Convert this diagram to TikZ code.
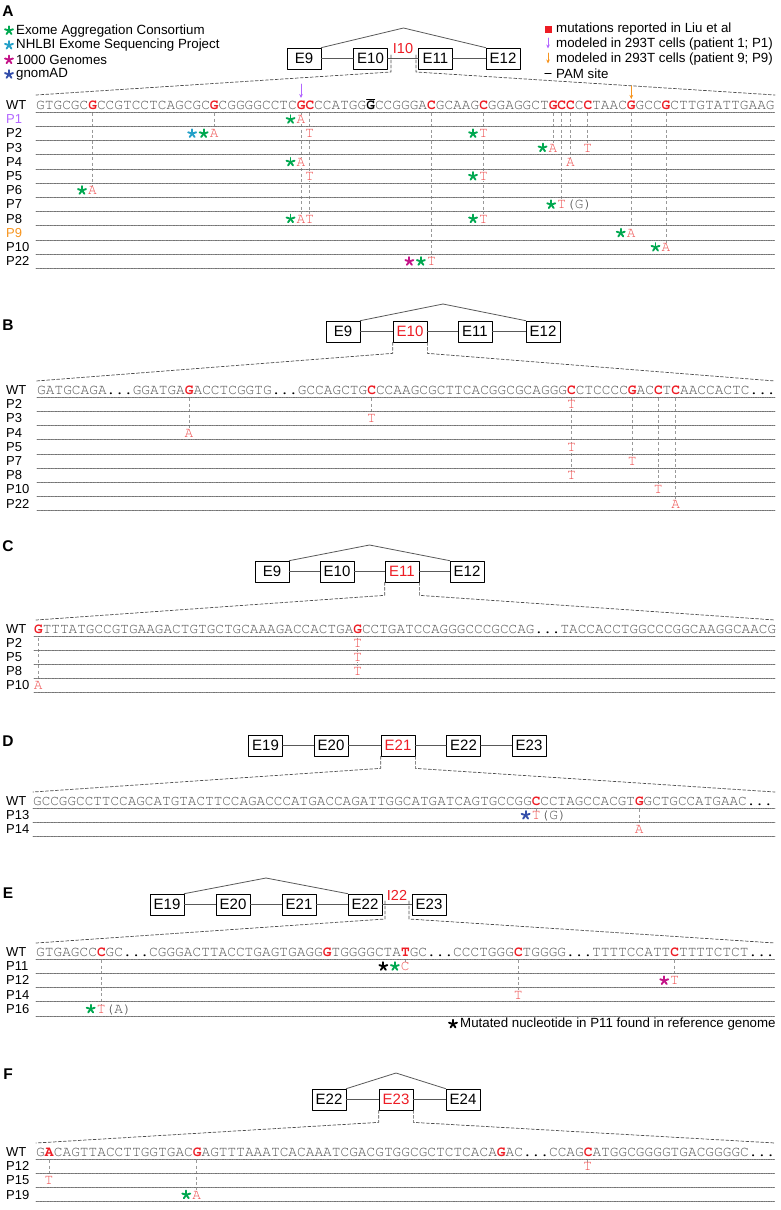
\documentclass[tikz,border=0pt]{standalone}
\usepackage{fontspec}
\setmainfont{Liberation Sans}
\setmonofont{TeX Gyre Cursor}
\usetikzlibrary{arrows.meta,backgrounds}

\definecolor{seqred}{RGB}{237,28,36}
\definecolor{mutred}{RGB}{238,80,80}
\definecolor{seqgray}{RGB}{80,80,80}
\definecolor{exacgreen}{RGB}{0,168,80}
\definecolor{espteal}{RGB}{36,160,200}
\definecolor{kgmagenta}{RGB}{196,20,136}
\definecolor{gnomblue}{RGB}{52,78,170}
\definecolor{pone}{RGB}{178,102,255}
\definecolor{pnine}{RGB}{247,148,29}

\newcommand{\hlr}[1]{\textcolor{seqred}{\textbf{#1}}}
\newcommand{\pam}[1]{\textcolor{black}{\textbf{#1}}}
\newcommand{\gp}{\textcolor{black}{...}}

\tikzset{
  panel/.style={inner sep=0, font=\fontsize{15.5}{17}\selectfont\bfseries},
  legtext/.style={anchor=west, inner sep=0, font=\fontsize{13.3}{15}\selectfont},
  rowlab/.style={anchor=west, inner sep=0, font=\fontsize{13}{15}\selectfont},
  seq/.style={anchor=base west, inner sep=0, text=seqgray, font=\fontsize{14.48}{16}\selectfont\ttfamily},
  mutl/.style={anchor=base, inner sep=0.6, fill=white, text=mutred, font=\fontsize{14.48}{16}\selectfont\ttfamily},
  extral/.style={anchor=base west, inner sep=0, text=seqgray, font=\fontsize{14.48}{16}\selectfont\ttfamily},
  exon/.style={draw, line width=0.7, minimum width=34, minimum height=21, inner sep=0, font=\fontsize{15}{17}\selectfont},
  intlab/.style={inner sep=0, text=seqred, font=\fontsize{14.5}{16}\selectfont},
  intron/.style={draw=black!65, line width=0.8},
  zoomline/.style={black!70, line width=0.7, dash pattern=on 3pt off 2pt},
  vline/.style={black!40, line width=0.8, dash pattern=on 3pt off 2.5pt},
  rowline/.style={black!55, line width=0.6, dash pattern=on 0.7pt off 0.7pt},
  marrow/.style={-{Stealth[length=4pt,width=3.6pt]}, line width=0.7},
  mstar/.pic={\foreach \a in {-90,-18,54,126,198} \draw[line width=1.9, line cap=round] (0,0) -- (\a:4.2);}
}

% mutation letter under column #2 of the WT row, in row #3
\newcommand{\mut}[4]{%
  \coordinate (#1-top) at ({\sx+(#2-0.5)*\cw},\wtl+1);
  \node[mutl] (#1) at ({\sx+(#2-0.5)*\cw},{\wtc+\rs*#3+4.5}) {#4};
  \begin{scope}[on background layer]
    \draw[vline] (#1-top) -- (#1.north);
  \end{scope}}
\newcommand{\mstars}[3]{\path (#1.base) ++(-#3,-4.3) pic[#2] {mstar};}
\newcommand{\mutextra}[2]{\path (#1.base) ++(4.35,0) node[extral] (#1x) {#2};}
\newcommand{\seqrows}[2]{%
  \node[rowlab] (#1WT) at (6,\wtc) {WT};
  \draw[rowline] (\sx,\wtl) -- (775,\wtl);
  \foreach \lab/\lc [count=\i] in {#2} {
    \node[rowlab, text=\lc] (#1\lab) at (6,{\wtc+\rs*\i}) {\lab};
    \draw[rowline] (\sx,{\wtl+\rs*\i}) -- (775,{\wtl+\rs*\i});
  }}

\begin{document}
\begin{tikzpicture}[x=1pt,y=-1pt,line cap=round,line join=round]
  \useasboundingbox (0,0) rectangle (780,1210);

  %% A
  \node[panel] (labA) at (8,11) {A};
  \foreach \cl/\tx [count=\i] in {exacgreen/Exome Aggregation Consortium,espteal/NHLBI Exome Sequencing Project,kgmagenta/1000 Genomes,gnomblue/gnomAD} {
    \pic[\cl] at (9,{16+14.6*\i}) {mstar};
    \node[legtext] (leg\i) at (16,{16+14.6*\i}) {\tx};
  }
  \node[fill=seqred, minimum size=7, inner sep=0] (legsq) at (548,29.5) {};
  \draw[marrow, pone] (548,38) -- (548,48.5);
  \draw[marrow, pnine] (548,53) -- (548,63.5);
  \draw[line width=1.2] (545,73.5) -- (551,73.5);
  \node[legtext] (legr1) at (556,29.5) {mutations reported in Liu et al};
  \node[legtext] (legr2) at (556,44) {modeled in 293T cells (patient 1; P1)};
  \node[legtext] (legr3) at (556,58.8) {modeled in 293T cells (patient 9; P9)};
  \node[legtext] (legr4) at (556,73.5) {PAM site};

  \node[exon] (aE9) at (304,58.5) {E9};
  \node[exon] (aE10) at (370.5,58.5) {E10};
  \node[exon] (aE11) at (435.5,58.5) {E11};
  \node[exon] (aE12) at (503,58.5) {E12};
  \node[intlab] (aI10) at (403,49) {I10};
  \coordinate (aTop) at (403.5,28);
  \draw[intron] (aE9) -- (aE10) (aE10) -- (aE11) (aE11) -- (aE12);
  \draw[intron] (aE9.north east) -- (aTop) -- (aE12.north west);
  \coordinate (aZl) at (391,55);
  \coordinate (aZr) at (416,55);
  \draw[zoomline] (aZl) -- ++(0,17) -- (36,95);
  \draw[zoomline] (aZr) -- ++(0,17) -- (775,95);

  \def\sx{36}\def\cw{8.69}\def\wtc{105}\def\wtl{112}\def\rs{14.2}
  \node[seq] (aWT) at (\sx,\wtc+4.5) {GTGCGC\hlr{G}CCGTCCTCAGCGC\hlr{G}CGGGGCCTC\hlr{GC}CCATGG\pam{G}CCGGGA\hlr{C}GCAAG\hlr{C}GGAGGCT\hlr{GCC}C\hlr{C}TAAC\hlr{G}GCC\hlr{G}CTTGTATTGAAG};
  \draw[line width=1.2] (366.6,99.5) -- (374.6,99.5);
  \draw[marrow, pone] (301,84) -- (301,98);
  \draw[marrow, pnine] (631.3,86) -- (631.3,99);
  \seqrows{a}{P1/pone,P2/black,P3/black,P4/black,P5/black,P6/black,P7/black,P8/black,P9/pnine,P10/black,P22/black}
  \mut{a6}{7}{6}{A} \mstars{a6}{exacgreen}{10.5}
  \mut{a2a}{21}{2}{A} \mstars{a2a}{exacgreen}{10.5} \mstars{a2a}{espteal}{22}
  \mut{a1}{31}{1}{A} \mstars{a1}{exacgreen}{10.5}
  \mut{a4a}{31}{4}{A} \mstars{a4a}{exacgreen}{10.5}
  \mut{a8a}{31}{8}{A} \mstars{a8a}{exacgreen}{10.5}
  \mut{a2b}{32}{2}{T}
  \mut{a5a}{32}{5}{T}
  \mut{a8b}{32}{8}{T}
  \mut{a22}{46}{11}{T} \mstars{a22}{exacgreen}{10.5} \mstars{a22}{kgmagenta}{22}
  \mut{a2c}{52}{2}{T} \mstars{a2c}{exacgreen}{10.5}
  \mut{a5b}{52}{5}{T} \mstars{a5b}{exacgreen}{10.5}
  \mut{a8c}{52}{8}{T} \mstars{a8c}{exacgreen}{10.5}
  \mut{a3a}{60}{3}{A} \mstars{a3a}{exacgreen}{10.5}
  \mut{a7}{61}{7}{T} \mstars{a7}{exacgreen}{10.5} \mutextra{a7}{(G)}
  \mut{a4b}{62}{4}{A}
  \mut{a3b}{64}{3}{T}
  \mut{a9}{69}{9}{A} \mstars{a9}{exacgreen}{10.5}
  \mut{a10}{73}{10}{A} \mstars{a10}{exacgreen}{10.5}

  %% B
  \node[panel] (labB) at (8,325) {B};
  \node[exon] (bE9) at (343,331.5) {E9};
  \node[exon, text=seqred] (bE10) at (410,331.5) {E10};
  \node[exon] (bE11) at (475,331.5) {E11};
  \node[exon] (bE12) at (543,331.5) {E12};
  \coordinate (bTop) at (443,304);
  \draw[intron] (bE9) -- (bE10) -- (bE11) -- (bE12);
  \draw[intron] (bE9.north east) -- (bTop) -- (bE12.north west);
  \draw[zoomline] (bE10.south west) -- ++(0,11) -- (36,381);
  \draw[zoomline] (bE10.south east) -- ++(0,11) -- (775,381);

  \def\sx{37}\def\cw{8.69}\def\wtc{390}\def\wtl{397}\def\rs{14.2}
  \node[seq] (bWT) at (\sx,\wtc+4.5) {GATGCAGA\gp GGATGA\hlr{G}ACCTCGGTG\gp GCCAGCTG\hlr{C}CCAAGCGCTTCACGGCGCAGGG\hlr{C}CTCCCC\hlr{G}AC\hlr{C}T\hlr{C}AACCACTC\gp};
  \seqrows{b}{P2/black,P3/black,P4/black,P5/black,P7/black,P8/black,P10/black,P22/black}
  \mut{b2}{62}{1}{T}
  \mut{b3}{39}{2}{T}
  \mut{b4}{18}{3}{A}
  \mut{b5}{62}{4}{T}
  \mut{b7}{69}{5}{T}
  \mut{b8}{62}{6}{T}
  \mut{b10}{72}{7}{T}
  \mut{b22}{74}{8}{A}

  %% C
  \node[panel] (labC) at (8,546) {C};
  \node[exon] (cE9) at (272,571.5) {E9};
  \node[exon] (cE10) at (337,571.5) {E10};
  \node[exon, text=seqred] (cE11) at (402,571.5) {E11};
  \node[exon] (cE12) at (467,571.5) {E12};
  \coordinate (cTop) at (369.5,545);
  \draw[intron] (cE9) -- (cE10) -- (cE11) -- (cE12);
  \draw[intron] (cE9.north east) -- (cTop) -- (cE12.north west);
  \draw[zoomline] (cE11.south west) -- ++(0,13) -- (36,620);
  \draw[zoomline] (cE11.south east) -- ++(0,13) -- (775,620);

  \def\sx{34}\def\cw{8.63}\def\wtc{629}\def\wtl{636.5}\def\rs{13.9}
  \node[seq, font=\fontsize{14.38}{16}\selectfont\ttfamily] (cWT) at (\sx,\wtc+4.5) {\hlr{G}TTTATGCCGTGAAGACTGTGCTGCAAAGACCACTGA\hlr{G}CCTGATCCAGGGCCCGCCAG\gp TACCACCTGGCCCGGCAAGGCAACG};
  \seqrows{c}{P2/black,P5/black,P8/black,P10/black}
  \mut{c2}{38}{1}{T}
  \mut{c5}{38}{2}{T}
  \mut{c8}{38}{3}{T}
  \mut{c10}{1}{4}{A}

  %% D
  \node[panel] (labD) at (8,741) {D};
  \node[exon] (dE19) at (265.5,745.5) {E19};
  \node[exon] (dE20) at (331,745.5) {E20};
  \node[exon, text=seqred] (dE21) at (398,745.5) {E21};
  \node[exon] (dE22) at (463.5,745.5) {E22};
  \node[exon] (dE23) at (529,745.5) {E23};
  \draw[intron] (dE19) -- (dE20) -- (dE21) -- (dE22) -- (dE23);
  \draw[zoomline] (dE21.south west) -- ++(0,12) -- (33,792);
  \draw[zoomline] (dE21.south east) -- ++(0,12) -- (775,792);

  \def\sx{33}\def\cw{8.6}\def\wtc{801}\def\wtl{808}\def\rs{14}
  \node[seq, font=\fontsize{14.33}{16}\selectfont\ttfamily] (dWT) at (\sx,\wtc+4.5) {GCCGGCCTTCCAGCATGTACTTCCAGACCCATGACCAGATTGGCATGATCAGTGCCGG\hlr{C}CCTAGCCACGT\hlr{G}GCTGCCATGAAC\gp};
  \seqrows{d}{P13/black,P14/black}
  \mut{d13}{59}{1}{T} \mstars{d13}{gnomblue}{10.5} \mutextra{d13}{(G)}
  \mut{d14}{71}{2}{A}

  %% E
  \node[panel] (labE) at (8,893) {E};
  \node[exon] (eE19) at (167,904.5) {E19};
  \node[exon] (eE20) at (233,904.5) {E20};
  \node[exon] (eE21) at (299,904.5) {E21};
  \node[exon] (eE22) at (365,904.5) {E22};
  \node[exon] (eE23) at (429,904.5) {E23};
  \node[intlab] (eI22) at (397,895.5) {I22};
  \coordinate (eTop) at (266,878);
  \draw[intron] (eE19) -- (eE20) -- (eE21) -- (eE22) -- (eE23);
  \draw[intron] (eE19.north east) -- (eTop) -- (eE22.north west);
  \coordinate (eZl) at (385,901);
  \coordinate (eZr) at (409,901);
  \draw[zoomline] (eZl) -- ++(0,18) -- (36,943);
  \draw[zoomline] (eZr) -- ++(0,18) -- (775,943);

  \def\sx{36}\def\cw{8.69}\def\wtc{952}\def\wtl{959}\def\rs{14.2}
  \node[seq] (eWT) at (\sx,\wtc+4.5) {GTGAGCC\hlr{C}GC\gp CGGGACTTACCTGAGTGAGG\hlr{G}TGGGGCTA\hlr{T}GC\gp CCCTGGG\hlr{C}TGGGG\gp TTTTCCATT\hlr{C}TTTTCTCT\gp};
  \seqrows{e}{P11/black,P12/black,P14/black,P16/black}
  \mut{e11}{43}{1}{C} \mstars{e11}{exacgreen}{10.5} \mstars{e11}{black}{22}
  \mut{e12}{74}{2}{T} \mstars{e12}{kgmagenta}{10.5}
  \mut{e14}{56}{3}{T}
  \mut{e16}{8}{4}{T} \mstars{e16}{exacgreen}{10.5} \mutextra{e16}{(A)}
  \pic[black] at (453,1024) {mstar};
  \node[legtext] (noteE) at (460,1024) {Mutated nucleotide in P11 found in reference genome};

  %% F
  \node[panel] (labF) at (8,1074) {F};
  \node[exon] (fE22) at (329,1099.5) {E22};
  \node[exon, text=seqred] (fE23) at (396,1099.5) {E23};
  \node[exon] (fE24) at (463,1099.5) {E24};
  \coordinate (fTop) at (396,1073);
  \draw[intron] (fE22) -- (fE23) -- (fE24);
  \draw[intron] (fE22.north east) -- (fTop) -- (fE24.north west);
  \draw[zoomline] (fE23.south west) -- ++(0,12) -- (36,1143);
  \draw[zoomline] (fE23.south east) -- ++(0,12) -- (775,1143);

  \def\sx{36}\def\cw{8.69}\def\wtc{1152}\def\wtl{1159}\def\rs{14.2}
  \node[seq] (fWT) at (\sx,\wtc+4.5) {G\hlr{A}CAGTTACCTTGGTGAC\hlr{G}AGTTTAAATCACAAATCGACGTGGCGCTCTCACA\hlr{G}AC\gp CCAG\hlr{C}ATGGCGGGGTGACGGGGC\gp};
  \seqrows{f}{P12/black,P15/black,P19/black}
  \mut{f12}{64}{1}{T}
  \mut{f15}{2}{2}{T}
  \mut{f19}{19}{3}{A} \mstars{f19}{exacgreen}{10.5}
\end{tikzpicture}
\end{document}
